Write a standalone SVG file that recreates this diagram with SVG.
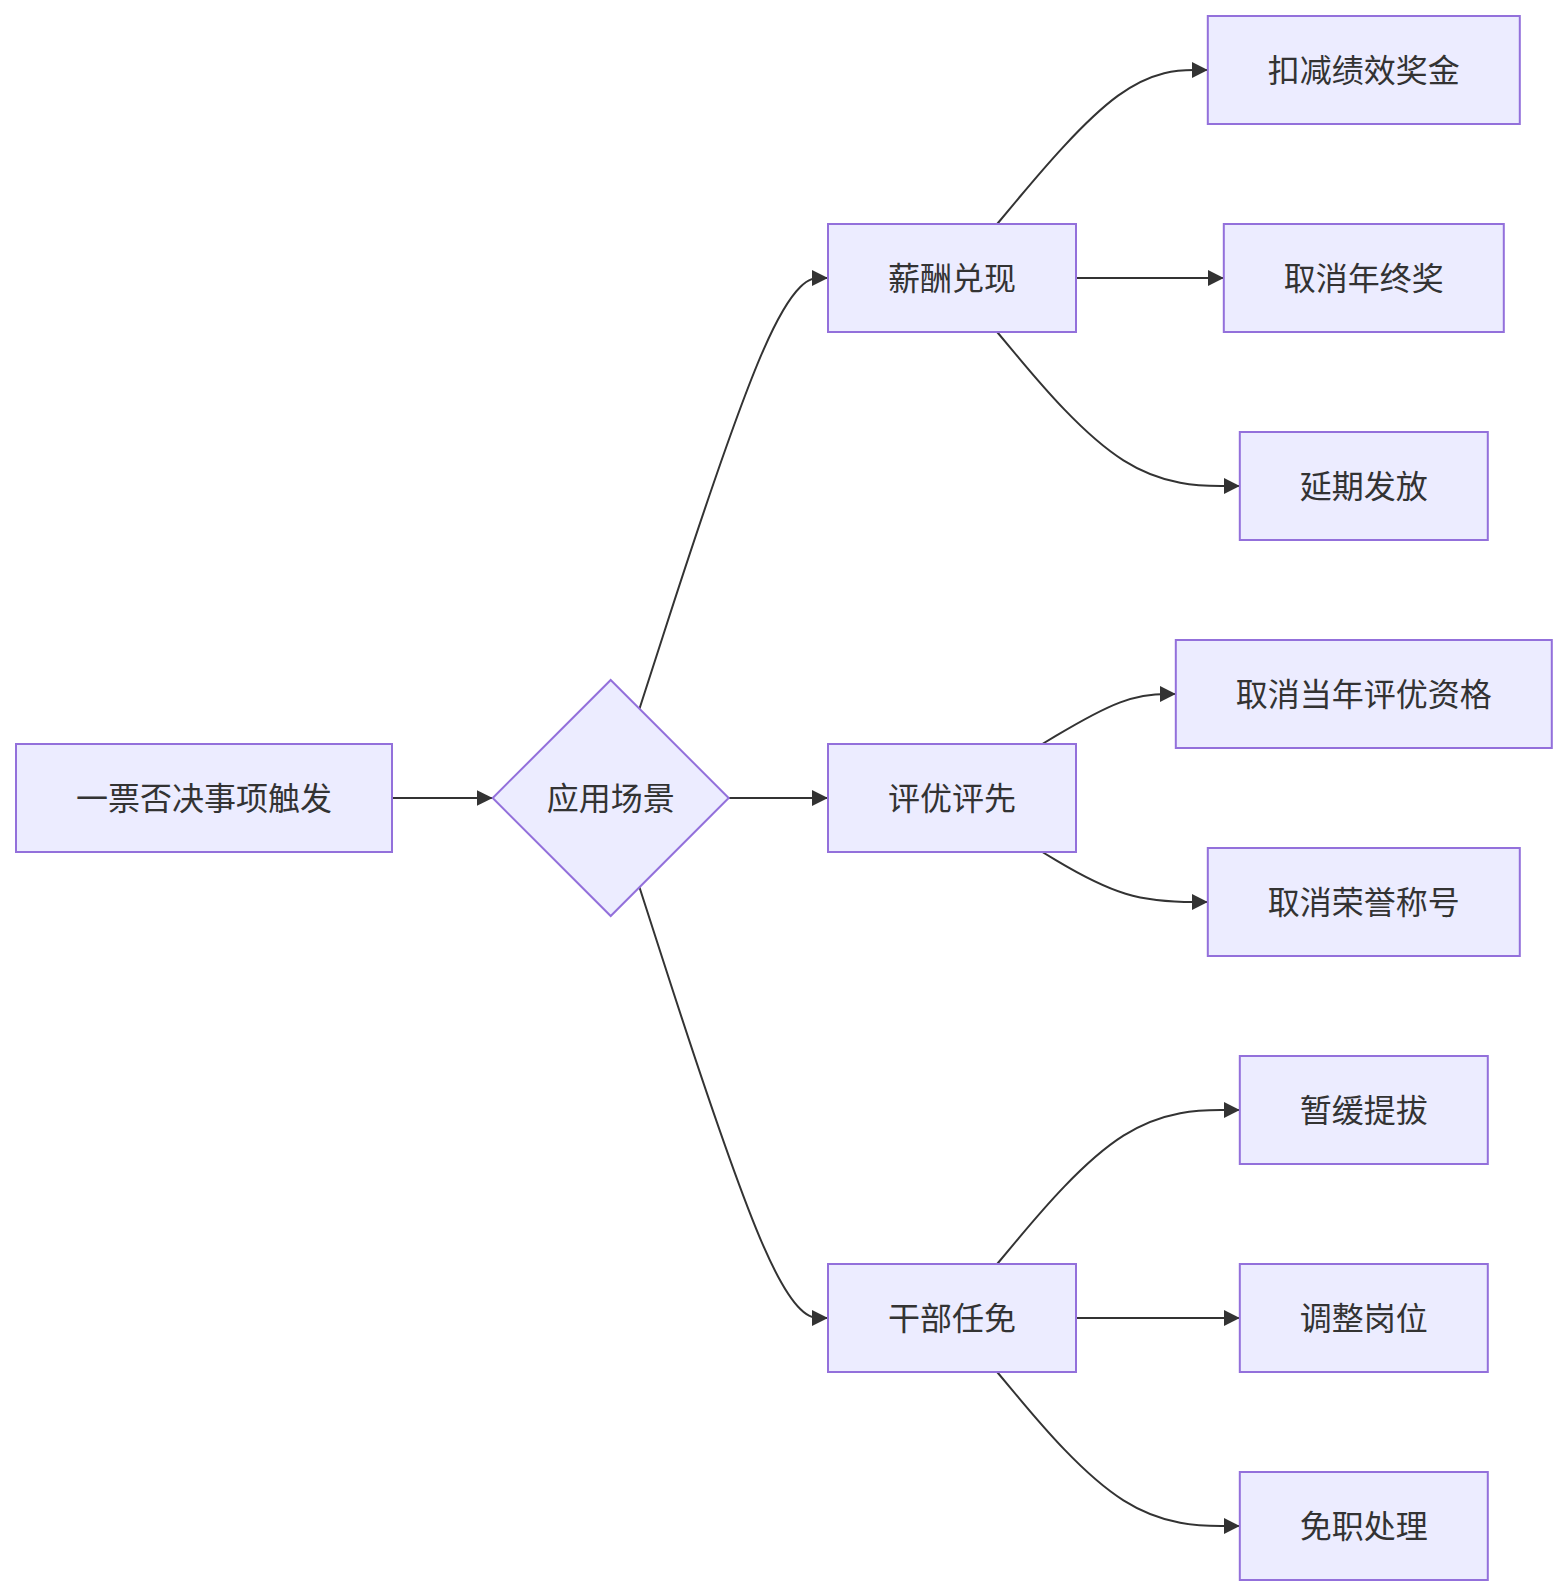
<svg xmlns="http://www.w3.org/2000/svg" width="1568" height="1596" viewBox="0 0 1568 1596">
<style>
.node rect,.node polygon{fill:#ECECFF;stroke:#9370DB;stroke-width:2}
.node text{font-family:"Noto Sans CJK SC","Noto Sans",sans-serif;font-size:32px;fill:#333;text-anchor:middle;dominant-baseline:central}
.edges path{fill:none;stroke:#333;stroke-width:2;marker-end:url(#arrow)}
</style>
<defs>
<marker id="arrow" viewBox="0 0 10 10" refX="10" refY="5" markerUnits="userSpaceOnUse" markerWidth="16" markerHeight="16" orient="auto">
<path d="M0,0 L10,5 L0,10 z" fill="#333"/>
</marker>
</defs>
<rect width="1568" height="1596" fill="#fff"/>
<g class="edges">
<path d="M392,798 L492.7,798"/>
<path d="M728.7,798 L828,798"/>
<path d="M639.47,708.77 L662.62,636.98 C685.76,565.18 732.06,421.59 763.48,349.8 C794.9,278 811.45,278 819.73,278 L828,278"/>
<path d="M639.47,887.23 L662.62,959.02 C685.76,1030.82 732.06,1174.41 763.48,1246.2 C794.9,1318 811.45,1318 819.73,1318 L828,1318"/>
<path d="M997.15,224 L1018.6,198.3 C1040.07,172.67 1082.98,121.33 1118.09,95.67 C1153.2,70 1180.5,70 1194.15,70 L1207.8,70"/>
<path d="M1076,278 L1223.8,278"/>
<path d="M997.15,332 L1018.6,357.67 C1040.07,383.33 1082.98,434.67 1123.43,460.33 C1163.87,486 1201.83,486 1220.82,486 L1239.8,486"/>
<path d="M1042.3,744 L1056.23,735.67 C1070.17,727.33 1098.03,710.67 1120.28,702.33 C1142.53,694 1159.17,694 1167.48,694 L1175.8,694"/>
<path d="M1042.3,852 L1056.23,860.33 C1070.17,868.67 1098.03,885.33 1125.62,893.67 C1153.2,902 1180.5,902 1194.15,902 L1207.8,902"/>
<path d="M997.15,1264 L1018.6,1238.33 C1040.07,1212.67 1082.98,1161.33 1123.43,1135.67 C1163.87,1110 1201.83,1110 1220.82,1110 L1239.8,1110"/>
<path d="M1076,1318 L1239.8,1318"/>
<path d="M997.15,1372 L1018.6,1397.67 C1040.07,1423.33 1082.98,1474.67 1123.43,1500.33 C1163.87,1526 1201.83,1526 1220.82,1526 L1239.8,1526"/>
</g>
<g id="start" class="node"><rect x="16" y="744" width="376" height="108"/><text x="204" y="796">一票否决事项触发</text></g>
<g id="scene" class="node"><polygon points="610.7,680 728.7,798 610.7,916 492.7,798"/><text x="610.7" y="796">应用场景</text></g>
<g id="salary" class="node"><rect x="828" y="224" width="248" height="108"/><text x="952" y="276">薪酬兑现</text></g>
<g id="award" class="node"><rect x="828" y="744" width="248" height="108"/><text x="952" y="796">评优评先</text></g>
<g id="cadre" class="node"><rect x="828" y="1264" width="248" height="108"/><text x="952" y="1316">干部任免</text></g>
<g id="deduct" class="node"><rect x="1207.8" y="16" width="312" height="108"/><text x="1363.8" y="68">扣减绩效奖金</text></g>
<g id="cancelBonus" class="node"><rect x="1223.8" y="224" width="280" height="108"/><text x="1363.8" y="276">取消年终奖</text></g>
<g id="delay" class="node"><rect x="1239.8" y="432" width="248" height="108"/><text x="1363.8" y="484">延期发放</text></g>
<g id="cancelQual" class="node"><rect x="1175.8" y="640" width="376" height="108"/><text x="1363.8" y="692">取消当年评优资格</text></g>
<g id="cancelHonor" class="node"><rect x="1207.8" y="848" width="312" height="108"/><text x="1363.8" y="900">取消荣誉称号</text></g>
<g id="suspend" class="node"><rect x="1239.8" y="1056" width="248" height="108"/><text x="1363.8" y="1108">暂缓提拔</text></g>
<g id="adjust" class="node"><rect x="1239.8" y="1264" width="248" height="108"/><text x="1363.8" y="1316">调整岗位</text></g>
<g id="dismiss" class="node"><rect x="1239.8" y="1472" width="248" height="108"/><text x="1363.8" y="1524">免职处理</text></g>
</svg>
